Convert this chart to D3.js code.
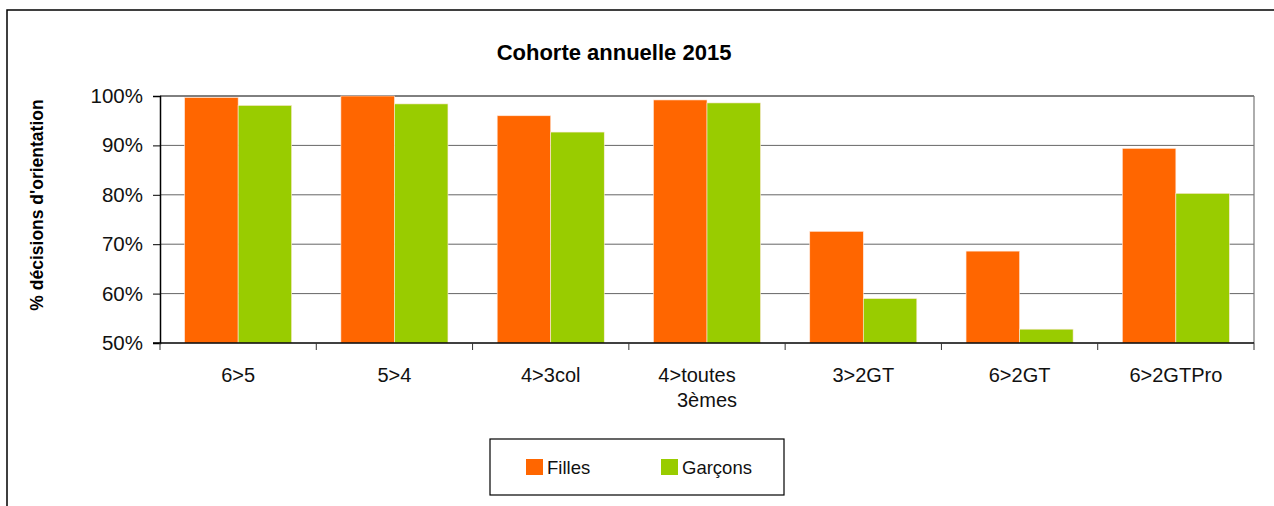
<!DOCTYPE html>
<html>
<head>
<meta charset="utf-8">
<script src="https://cdn.jsdelivr.net/npm/d3@7"></script>
<style>
  body { margin: 0; background: #fff; }
  svg { display: block; font-family: Arial, "Liberation Sans", sans-serif; }
</style>
</head>
<body>
<svg id="chart" width="1274" height="506"></svg>
<script>
const categories = ["6>5", "5>4", "4>3col", "4>toutes 3èmes", "3>2GT", "6>2GT", "6>2GTPro"];
const series = ["Filles", "Garçons"];
const filles = [99.7, 100, 96.0, 99.2, 72.6, 68.6, 89.4];
const garcons = [98.1, 98.4, 92.7, 98.6, 59.0, 52.8, 80.3];
const yTicks = [50, 60, 70, 80, 90, 100];

const colors = { Filles: "#FF6600", "Garçons": "#99CC00" };

const svg = d3.select("#chart");
const plot = { left: 160, right: 1254, top: 96, bottom: 343 };

// outer frame (only top and left edges are visible)
svg.append("path")
  .attr("d", "M7,520 V10 H1280")
  .attr("fill", "none")
  .attr("stroke", "#000")
  .attr("stroke-width", 1.5);

const x0 = d3.scaleBand()
  .domain(categories)
  .range([plot.left, plot.right])
  .padding(0);

const groupW = x0.bandwidth() * 0.685;
const x1 = d3.scaleBand()
  .domain(series)
  .range([0, groupW]);

const y = d3.scaleLinear()
  .domain([50, 100])
  .range([plot.bottom, plot.top]);

// gridlines
svg.append("g")
  .selectAll("line")
  .data(yTicks.filter(t => t > 50))
  .enter()
  .append("line")
  .attr("x1", plot.left)
  .attr("x2", plot.right)
  .attr("y1", d => y(d))
  .attr("y2", d => y(d))
  .attr("stroke", d => (d === 100 ? "#000" : "#666"))
  .attr("stroke-width", 1);

// right edge of plot area
svg.append("line")
  .attr("x1", plot.right).attr("x2", plot.right)
  .attr("y1", plot.top).attr("y2", plot.bottom)
  .attr("stroke", "#777")
  .attr("stroke-width", 1.2);

const rows = categories.map((c, i) => ({ cat: c, Filles: filles[i], "Garçons": garcons[i] }));

const groups = svg.append("g")
  .selectAll("g")
  .data(rows)
  .enter()
  .append("g")
  .attr("transform", d => `translate(${x0(d.cat) + (x0.bandwidth() - groupW) / 2},0)`);

groups.selectAll("rect")
  .data(d => series.map(s => ({ key: s, value: d[s] })))
  .enter()
  .append("rect")
  .attr("x", d => x1(d.key))
  .attr("width", x1.bandwidth())
  .attr("y", d => y(d.value))
  .attr("height", d => plot.bottom - y(d.value))
  .attr("fill", d => colors[d.key])
  .attr("stroke", "#ffe9dc")
  .attr("stroke-width", 0.6);

// y axis
const yAxis = svg.append("g")
  .attr("transform", `translate(${plot.left},0)`)
  .call(d3.axisLeft(y).tickValues(yTicks).tickSize(7).tickPadding(10).tickFormat(d => d + "%"));
yAxis.select(".domain").attr("stroke", "#000").attr("stroke-width", 1.5);
yAxis.selectAll(".tick line").attr("stroke", "#000");
yAxis.selectAll("text")
  .attr("font-size", 20.5)
  .attr("fill", "#111")
  .attr("font-family", "Arial, 'Liberation Sans', sans-serif");

// x axis
const xAxis = svg.append("g")
  .attr("transform", `translate(0,${plot.bottom})`);
xAxis.append("line")
  .attr("x1", plot.left - 7).attr("x2", plot.right)
  .attr("stroke", "#000").attr("stroke-width", 1.5);
xAxis.selectAll(".sep")
  .data(categories.map(c => x0(c)).concat([plot.right]))
  .enter()
  .append("line")
  .attr("x1", d => d).attr("x2", d => d)
  .attr("y1", 0).attr("y2", 7)
  .attr("stroke", "#333");

const xl = xAxis.selectAll(".lbl")
  .data(categories)
  .enter()
  .append("text")
  .attr("text-anchor", "middle")
  .attr("font-size", 20)
  .attr("fill", "#111")
  .attr("y", 39);
xl.each(function(d) {
  const cx = x0(d) + x0.bandwidth() / 2;
  const parts = d.split(" ");
  const t = d3.select(this);
  parts.forEach((p, i) => {
    t.append("tspan")
      .attr("x", cx + (parts.length > 1 && i === 0 ? -10 : 0))
      .attr("dy", i === 0 ? 0 : 25)
      .text(p);
  });
});

// title
svg.append("text")
  .attr("x", 614)
  .attr("y", 60)
  .attr("text-anchor", "middle")
  .attr("font-size", 22)
  .attr("font-weight", "bold")
  .attr("fill", "#000")
  .text("Cohorte annuelle 2015");

// y axis title
svg.append("text")
  .attr("transform", "translate(43,205) rotate(-90)")
  .attr("text-anchor", "middle")
  .attr("font-size", 17.5)
  .attr("font-weight", "bold")
  .attr("fill", "#000")
  .text("% décisions d'orientation");

// legend
const legend = svg.append("g");
legend.append("rect")
  .attr("x", 490).attr("y", 439)
  .attr("width", 294).attr("height", 56)
  .attr("fill", "#fff")
  .attr("stroke", "#000")
  .attr("stroke-width", 1.2);
const legendX = d3.scaleOrdinal().domain(series).range([526, 661]);
const li = legend.selectAll(".item")
  .data(series)
  .enter()
  .append("g")
  .attr("transform", d => `translate(${legendX(d)},459)`);
li.append("rect")
  .attr("width", 17).attr("height", 16)
  .attr("fill", d => colors[d]);
li.append("text")
  .attr("x", 21)
  .attr("y", 15)
  .attr("font-size", 18.5)
  .attr("fill", "#111")
  .text(d => d);
</script>
</body>
</html>
